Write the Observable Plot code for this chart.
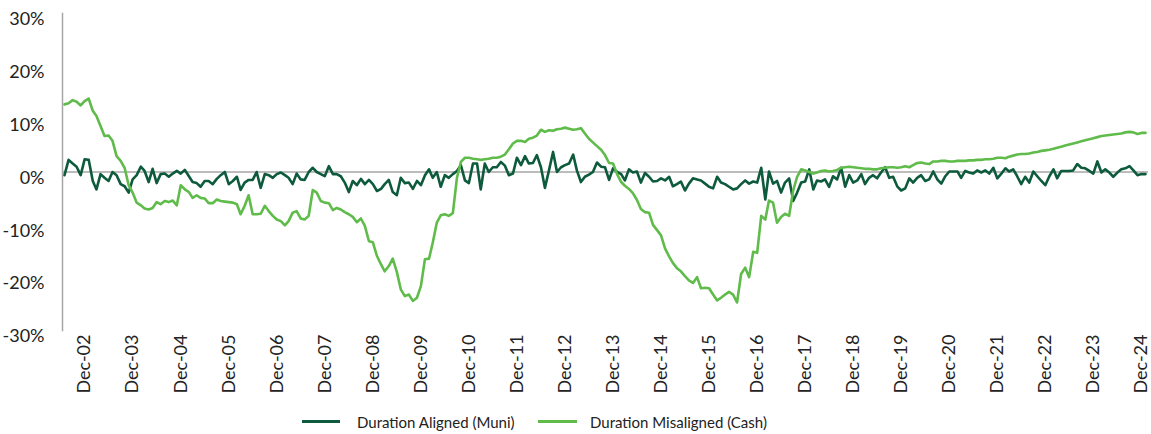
<!DOCTYPE html>
<html>
<head>
<meta charset="utf-8">
<script src="https://cdn.jsdelivr.net/npm/d3@7"></script>
<script src="https://cdn.jsdelivr.net/npm/@observablehq/plot@0.6"></script>
<style>
  body { margin: 0; background: #fff; }
  #chart { position: relative; width: 1151px; height: 434px; overflow: hidden; font-family: Lato, "Open Sans", sans-serif; color: #222; }
  #chart svg { position: absolute; left: 0; top: 0; }
  .sw { position: absolute; height: 3px; top: 420px; }
  .lt { position: absolute; top: 411px; font-size: 15px; line-height: 22px; white-space: nowrap; }
</style>
</head>
<body>
<div id="chart"></div>
<script>
// ---- Data (monthly, starting Jul-02) ----
const firstMonth = "Jul-02";
const seriesNames = ["Duration Aligned (Muni)", "Duration Misaligned (Cash)"];
const seriesColors = ["#0d5a3c", "#5fbb4a"];

const muni = [
  -0.6, 2.3, 1.6, 1.0, -0.6, 2.4, 2.3, -1.7, -3.3, -0.4, -1.1, -1.7,
  0.0, -0.6, -2.3, -2.7, -3.9, -1.4, -0.6, 1.0, 0.2, -1.9, 0.6, -2.1,
  -0.4, -0.3, -0.9, -0.3, 0.2, -0.3, 0.4, -0.8, -1.9, -2.1, -2.8, -1.7,
  -1.7, -2.3, -1.3, -0.6, 0.0, -2.3, -1.7, -0.9, -3.4, -2.0, -1.5, -1.5,
  0.0, -3.0, -0.4, -0.6, -1.1, -0.4, -0.1, -0.6, -1.1, -2.3, -0.3, -1.4,
  -1.5, 0.0, 0.8, 0.0, -0.4, -0.8, 1.1, -0.4, -0.4, -0.8, -2.0, -3.8,
  -1.7, -2.5, -1.3, -2.3, -1.5, -2.3, -3.6, -3.2, -2.3, -1.5, -3.8, -4.4,
  -1.1, -2.1, -2.0, -3.2, -1.7, -2.5, -0.6, 0.5, -1.1, 0.0, -2.8, -0.6,
  -1.1, -0.4, 0.2, 1.3, -1.6, -2.1, 1.6, 1.6, -3.3, 1.6, 0.0, 0.9,
  0.9, 1.9, 1.2, -0.6, -0.3, 2.7, 1.3, 3.0, 1.6, 1.7, 3.2, 0.9,
  -3.0, 0.3, 3.8, 0.0, 0.9, 1.3, 1.6, 3.3, 0.3, -1.9, -0.9, -0.5,
  0.0, 1.8, 1.0, 0.9, -1.5, 0.7, 0.0, -0.4, -1.6, 0.5, -0.1, 0.1,
  -2.0, -0.2, -0.9, -1.8, -1.7, -1.2, -1.6, -0.9, -2.7, -2.3, -1.8, -3.5,
  -2.2, -1.2, -1.4, -1.6, -2.2, -2.8, -3.1, -0.9, -2.0, -2.3, -2.8, -3.3,
  -3.1, -2.3, -1.6, -2.2, -1.8, -2.0, 0.8, -5.2, 0.1, -2.2, -1.7, -3.9,
  -2.0, -1.2, -5.5, -3.9, -2.0, -1.8, 0.5, -3.3, -1.6, -1.8, -1.4, -2.8,
  -0.8, -1.4, 0.8, -2.8, -0.6, -2.0, -1.6, -0.4, -2.3, -1.1, -0.6, -1.2,
  -0.1, 0.9, -1.1, -0.9, -2.7, -3.5, -3.1, -1.2, -2.0, -1.1, -0.6, -1.7,
  -1.4, 0.1, -1.4, -2.2, -0.8, 0.1, 0.1, 0.1, -1.1, 0.2, -0.1, -0.3,
  0.3, -0.1, 0.3, -0.3, 0.8, -1.2, -0.3, 0.7, 0.1, 0.5, -0.8, -2.3,
  -0.9, -2.0, 0.1, -0.8, -1.7, -2.5, -0.8, 0.5, -1.2, 0.2, 0.2, 0.2,
  0.3, 1.5, 0.8, 0.7, 0.2, -0.3, 2.0, -0.1, 0.5, -0.1, -0.9, -0.1,
  0.5, 0.7, 1.1, 0.3, -0.6, -0.4, -0.4
];

const cash = [
  12.8, 13.0, 13.6, 13.3, 12.6, 13.4, 13.9, 11.6, 10.6, 8.7, 6.8, 6.9,
  5.9, 3.0, 2.1, 0.8, -2.5, -3.9, -5.8, -6.3, -6.9, -7.1, -6.8, -5.7,
  -6.1, -5.5, -5.7, -5.4, -6.3, -2.5, -3.3, -3.8, -4.9, -4.4, -4.9, -5.0,
  -5.9, -5.9, -5.2, -5.5, -5.6, -5.7, -5.8, -6.1, -8.0, -6.4, -4.4, -8.0,
  -8.0, -7.9, -6.4, -7.4, -8.3, -9.0, -9.3, -10.1, -9.3, -7.7, -7.4, -8.8,
  -9.0, -8.3, -3.4, -3.9, -5.5, -5.8, -5.9, -7.2, -6.8, -7.1, -7.6, -8.0,
  -8.5, -9.5, -8.8, -10.2, -13.1, -13.3, -15.9, -17.5, -18.8, -17.8, -16.4, -18.9,
  -22.2, -23.5, -23.2, -24.4, -23.8, -21.6, -16.5, -16.4, -13.4, -9.6, -8.2, -8.0,
  -8.3, -7.8, -1.1, 1.9, 2.7, 2.7, 2.5, 2.4, 2.3, 2.4, 2.5, 2.7,
  2.7, 2.9, 3.3, 4.3, 5.4, 5.9, 5.9, 5.7, 6.3, 6.5, 6.9, 8.0,
  7.6, 7.9, 7.8, 8.1, 8.2, 8.4, 8.2, 8.0, 8.1, 8.3, 7.3, 6.3,
  5.6, 4.9, 4.2, 3.2, 1.7, 1.6, -0.4, -1.9, -2.6, -3.2, -4.0, -5.3,
  -7.0, -7.6, -7.7, -10.0, -11.0, -12.0, -14.5, -16.0, -17.2, -18.2, -18.8, -19.7,
  -20.5, -21.0, -19.9, -22.0, -21.9, -22.0, -23.2, -24.3, -23.8, -23.2, -22.7, -23.2,
  -24.7, -19.3, -18.1, -19.9, -15.1, -15.3, -8.3, -9.0, -5.4, -5.8, -9.6, -8.5,
  -7.9, -8.3, -3.5, -0.9, 0.5, 0.3, 0.0, -0.3, -0.1, 0.2, 0.3, 0.1,
  0.2, 0.4, 0.8, 0.9, 1.0, 0.9, 0.8, 0.7, 0.6, 0.6, 0.5, 0.5,
  0.7, 0.8, 0.9, 0.9, 0.8, 0.9, 1.1, 0.9, 1.3, 1.7, 1.8, 1.6,
  1.5, 2.0, 2.0, 2.1, 2.1, 2.0, 2.0, 2.1, 2.1, 2.1, 2.2, 2.2,
  2.3, 2.3, 2.4, 2.4, 2.5, 2.7, 2.7, 2.6, 2.9, 3.1, 3.3, 3.4,
  3.4, 3.5, 3.7, 3.8, 4.0, 4.1, 4.2, 4.4, 4.6, 4.8, 5.0, 5.2,
  5.4, 5.6, 5.8, 6.0, 6.2, 6.4, 6.6, 6.8, 6.9, 7.0, 7.1, 7.2,
  7.3, 7.5, 7.6, 7.5, 7.2, 7.4, 7.4
];

const xTickLabels = ["Dec-02","Dec-03","Dec-04","Dec-05","Dec-06","Dec-07","Dec-08","Dec-09",
  "Dec-10","Dec-11","Dec-12","Dec-13","Dec-14","Dec-15","Dec-16","Dec-17","Dec-18","Dec-19",
  "Dec-20","Dec-21","Dec-22","Dec-23","Dec-24"];
const yTicks = [-30, -20, -10, 0, 10, 20, 30];

// ---- Build ----
const parseMonth = d3.utcParse("%b-%y");
const fmtMonth = d3.utcFormat("%b-%y");
const start = parseMonth(firstMonth);
const months = muni.map((_, i) => d3.utcMonth.offset(start, i));
const data = [
  ...muni.map((v, i) => ({date: months[i], value: v, series: seriesNames[0]})),
  ...cash.map((v, i) => ({date: months[i], value: v, series: seriesNames[1]}))
];

const chart = Plot.plot({
  width: 1151,
  height: 395,
  marginLeft: 62,
  marginRight: 3,
  marginTop: 13,
  marginBottom: 65,
  style: {fontFamily: "Lato, 'Open Sans', sans-serif", fontSize: "18px", color: "#222", background: "transparent", overflow: "visible"},
  x: {type: "utc", domain: [months[0], months[months.length - 1]], range: [64, 1145]},
  y: {domain: [-30, 30]},
  color: {domain: seriesNames, range: seriesColors},
  marks: [
    Plot.frame({anchor: "left", stroke: "#a6a6a6", strokeWidth: 1.5, strokeOpacity: 1}),
    Plot.ruleY([0], {stroke: "#a6a6a6", strokeWidth: 1.5}),
    Plot.axisY(yTicks, {tickSize: 0, tickPadding: 18, dy: 6, tickFormat: d => d + "%", label: null}),
    Plot.axisX(xTickLabels.map(parseMonth), {tickSize: 0, tickPadding: 4, tickRotate: -90, tickFormat: fmtMonth, label: null}),
    Plot.line(data, {x: "date", y: "value", z: "series", stroke: "series", strokeWidth: 2.6})
  ]
});

const root = document.getElementById("chart");
root.appendChild(chart);

// ---- Legend ----
const legendItems = [
  {swLeft: 302, swWidth: 38, textLeft: 357},
  {swLeft: 538, swWidth: 39, textLeft: 590}
];
legendItems.forEach((it, i) => {
  const sw = document.createElement("div");
  sw.className = "sw";
  sw.style.left = it.swLeft + "px";
  sw.style.width = it.swWidth + "px";
  sw.style.background = seriesColors[i];
  root.appendChild(sw);
  const t = document.createElement("div");
  t.className = "lt";
  t.style.left = it.textLeft + "px";
  t.textContent = seriesNames[i];
  root.appendChild(t);
});
</script>
</body>
</html>
